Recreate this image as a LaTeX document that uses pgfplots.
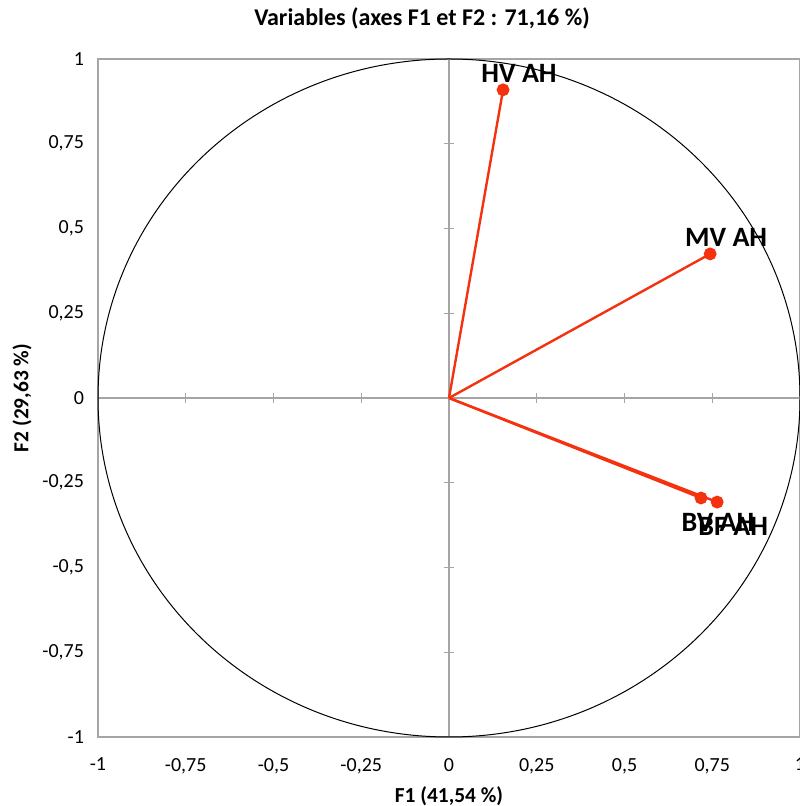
\documentclass[border=0pt]{standalone}
\usepackage{fontspec}
\setmainfont{Carlito}
\usepackage{pgfplots}
\pgfplotsset{compat=1.18}
\definecolor{vec}{RGB}{245,50,15}
\definecolor{frm}{RGB}{165,165,165}
\begin{document}
\begin{tikzpicture}
% center lines with crossing ticks
\begin{axis}[at={(0,0)}, anchor=south west, scale only axis, width=351pt, height=339pt,
  xmin=-1, xmax=1, ymin=-1, ymax=1,
  axis lines*=center, axis line style={frm, line width=0.7pt},
  xtick={-1,-0.75,-0.5,-0.25,0,0.25,0.5,0.75,1},
  ytick={-1,-0.75,-0.5,-0.25,0,0.25,0.5,0.75,1},
  xticklabels={}, yticklabels={},
  tick align=center, major tick length=5pt, tick style={frm, line width=0.6pt}]
\end{axis}
\begin{axis}[name=main, at={(0,0)}, anchor=south west, scale only axis, width=351pt, height=339pt,
  xmin=-1, xmax=1, ymin=-1, ymax=1, clip=false,
  axis line style={frm, line width=0.7pt},
  xtick={-1,-0.75,-0.5,-0.25,0,0.25,0.5,0.75,1},
  ytick={-1,-0.75,-0.5,-0.25,0,0.25,0.5,0.75,1},
  major tick length=0pt,
  /pgf/number format/assume math mode=true,
  /pgf/number format/use comma,
  ticklabel style={font=\fontsize{10}{12}\selectfont},
  xticklabel style={yshift=-7pt},
  yticklabel style={xshift=-3.5pt}]
\draw[black, line width=0.5pt] (axis cs:0,0) circle [x radius=1, y radius=1];
\addplot[vec, line width=1.2pt, mark=*, mark size=2.6pt, mark indices={2}] coordinates {(0,0) (0.154,0.909)};
\addplot[vec, line width=1.2pt, mark=*, mark size=2.6pt, mark indices={2}] coordinates {(0,0) (0.744,0.425)};
\addplot[vec, line width=1.2pt, mark=*, mark size=2.6pt, mark indices={2}] coordinates {(0,0) (0.718,-0.295)};
\addplot[vec, line width=1.2pt, mark=*, mark size=2.6pt, mark indices={2}] coordinates {(0,0) (0.764,-0.307)};
\node[font=\fontsize{14}{16}\selectfont\bfseries] at (axis cs:0.154,0.909) [xshift=8pt, yshift=8pt] {HV AH};
\node[font=\fontsize{14}{16}\selectfont\bfseries] at (axis cs:0.744,0.425) [xshift=8pt, yshift=8pt] {MV AH};
\node[font=\fontsize{14}{16}\selectfont\bfseries] at (axis cs:0.718,-0.295) [xshift=8.5pt, yshift=-12pt] {BV AH};
\node[font=\fontsize{14}{16}\selectfont\bfseries] at (axis cs:0.764,-0.307) [xshift=8pt, yshift=-12pt] {BF AH};
\node[font=\fontsize{12}{14}\selectfont\bfseries] at ([xshift=-13.5pt, yshift=20.5pt]rel axis cs:0.5,1) {Variables (axes F1 et F2 : 71,16 \%)};
\node[font=\fontsize{10.7}{12}\selectfont\bfseries] at ([yshift=-29.5pt]rel axis cs:0.5,0) {F1 (41,54 \%)};
\node[font=\fontsize{10.7}{12}\selectfont\bfseries, rotate=90] at ([xshift=-38pt]rel axis cs:0,0.5) {F2 (29,63 \%)};
\end{axis}
\pgfresetboundingbox
\path ([shift={(-49pt,-34.5pt)}]main.south west) rectangle ([shift={(0pt,29.5pt)}]main.north east);
\end{tikzpicture}
\end{document}
